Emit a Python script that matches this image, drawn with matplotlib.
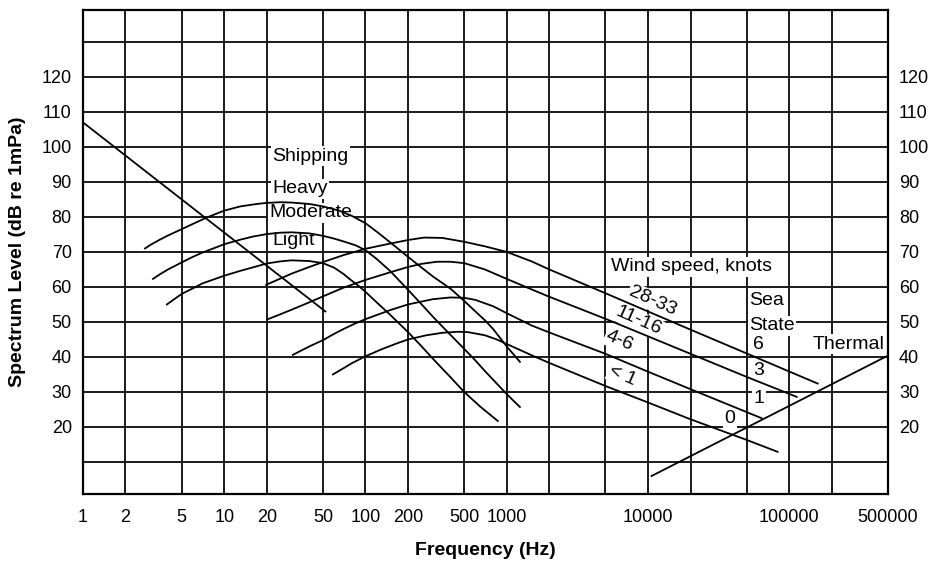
import matplotlib
matplotlib.use("Agg")
import matplotlib.pyplot as plt
from matplotlib.ticker import NullLocator

plt.rcParams['font.family'] = ['Liberation Sans', 'DejaVu Sans']

# ambient noise curves, frequency [Hz] vs spectrum level [dB]
turb_f = [1, 52]
turb_db = [107, 53]

heavy_f = [2.75, 3, 3.5, 4, 5, 6, 7.5, 10, 13, 17, 20, 25, 30, 40, 50, 65, 80, 100,
           120, 150, 200, 250, 300, 400, 500, 600, 700, 800, 1000, 1240]
heavy_db = [71, 72, 73.5, 74.7, 76.5, 78, 79.8, 81.8, 83, 83.7, 84, 84.2, 84.1, 83.7, 83,
            81.8, 80.3, 78.2, 75.8, 72.7, 68.6, 65.5, 63, 59.5, 56, 53, 50.5, 48, 43, 38.6]

moderate_f = [3.13, 3.5, 4, 5, 6, 7, 8.5, 10, 13, 16, 20, 25, 30, 40, 50, 60, 70, 85,
              100, 120, 150, 200, 250, 300, 400, 500, 600, 700, 850, 1000, 1240]
moderate_db = [62.3, 63.6, 65, 67, 68.6, 69.8, 71.1, 72.2, 73.5, 74.4, 75.1, 75.5, 75.6,
               75.3, 74.6, 73.8, 73, 71.9, 70.5, 68, 64.5, 59.2, 55, 51.5, 46.3, 42.3, 39,
               36, 32.4, 29.4, 25.7]

light_f = [3.93, 4.5, 5, 6, 7, 8.5, 10, 13, 16, 20, 25, 30, 40, 50, 60, 70, 77, 90, 100,
           120, 150, 200, 250, 300, 400, 500, 650, 865]
light_db = [55, 56.7, 58, 59.6, 61, 62.2, 63.2, 64.6, 65.6, 66.7, 67.3, 67.6, 67.4, 66.8,
            65.5, 63.7, 62.3, 60.2, 58.6, 55.6, 52, 47.1, 43, 39.5, 34.2, 30, 25.8, 21.7]

wind28_f = [19.8, 25, 30, 40, 50, 70, 100, 150, 200, 260, 350, 500, 700, 1000, 1500,
            2000, 5000, 10000, 20000, 50000, 159000]
wind28_db = [60.6, 62.4, 63.8, 65.7, 67.1, 69.1, 70.9, 72.4, 73.4, 74.1, 74, 72.9, 71.6,
             70, 67.3, 65, 58.2, 53, 47.8, 41, 32.4]

wind11_f = [20.4, 25, 30, 40, 50, 70, 100, 150, 200, 250, 320, 400, 500, 700, 1000, 1500,
            2000, 5000, 10000, 20000, 50000, 113000]
wind11_db = [50.8, 52.2, 53.5, 55.6, 57.3, 59.8, 62, 64.2, 65.7, 66.6, 67.2, 67.2, 66.8,
             65, 62.3, 59.3, 57.2, 50.9, 45.9, 40.9, 34.3, 28.6]

wind4_f = [30.6, 40, 50, 60, 70, 85, 100, 150, 200, 300, 400, 500, 600, 800, 1000, 1500,
           2000, 5000, 10000, 20000, 63800]
wind4_db = [40.6, 43, 44.8, 46.6, 48, 49.6, 50.8, 53.4, 55, 56.5, 57, 56.9, 56.3, 54.5,
            52.5, 49, 47, 40.9, 35.8, 30.8, 22.5]

wind1_f = [58.8, 70, 80, 100, 130, 170, 200, 270, 350, 450, 530, 700, 850, 1000, 1500,
           2000, 5000, 10000, 20000, 50000, 82800]
wind1_db = [35, 36.8, 38.2, 40.2, 42.2, 44, 45, 46.2, 46.9, 47.2, 47.1, 46.2, 45, 43.7,
            40.5, 38.3, 31.7, 27, 22.2, 16.3, 12.9]

thermal_f = [10600, 500000]
thermal_db = [6, 40.4]

grid_f = [1, 2, 5, 10, 20, 50, 100, 200, 500, 1000, 2000, 5000,
          10000, 20000, 50000, 100000, 200000, 500000]
freq_labels = ['1', '2', '5', '10', '20', '50', '100', '200', '500', '1000', '', '',
               '10000', '', '', '100000', '', '500000']
grid_db = list(range(10, 140, 10))
level_labels = [str(v) if 20 <= v <= 120 else '' for v in grid_db]

fig = plt.figure(figsize=(9.31, 5.62), dpi=100)
ax = fig.add_axes([0.0891, 0.121, 0.8647, 0.8612])

curves = [(turb_f, turb_db), (heavy_f, heavy_db), (moderate_f, moderate_db),
          (light_f, light_db), (wind28_f, wind28_db), (wind11_f, wind11_db),
          (wind4_f, wind4_db), (wind1_f, wind1_db), (thermal_f, thermal_db)]
for f, db in curves:
    ax.plot(f, db, color='black', lw=1.3, zorder=5)

ax.set_xscale('log')
ax.set_xlim(1, 500000)
ax.set_ylim(0.86, 139.1)
ax.set_xticks(grid_f, freq_labels)
ax.xaxis.set_minor_locator(NullLocator())
ax.set_yticks(grid_db, level_labels)
ax.grid(True, color='#1a1a1a', lw=1.4, zorder=1)
ax.set_axisbelow(True)
for s in ax.spines.values():
    s.set_linewidth(1.6)
ax.tick_params(axis='both', length=0, labelsize=13)
ax.tick_params(axis='x', pad=11)
ax.tick_params(axis='y', pad=8, labelright=True)

ax.set_xlabel('Frequency (Hz)', fontsize=14, fontweight='bold', labelpad=11)
ax.set_ylabel('Spectrum Level (dB re 1mPa)', fontsize=14, fontweight='bold', labelpad=11)

box = dict(facecolor='white', edgecolor='none', pad=1)
txt = dict(fontsize=14, bbox=box, zorder=4)

# shipping labels
ax.text(22, 97.4, 'Shipping', ha='left', va='center', **txt)
ax.text(22, 88, 'Heavy', ha='left', va='center', **txt)
ax.text(21, 81.2, 'Moderate', ha='left', va='center', **txt)
ax.text(22, 73.4, 'Light', ha='left', va='center', **txt)

# wind labels
ax.text(5500, 65.7, 'Wind speed, knots', ha='left', va='center', **txt)
ax.text(10800, 56, '28-33', ha='center', va='center', rotation=-24, **txt)
ax.text(8500, 50.3, '11-16', ha='center', va='center', rotation=-24, **txt)
ax.text(6300, 44.6, '4-6', ha='center', va='center', rotation=-24, **txt)
ax.text(6600, 34.6, '< 1', ha='center', va='center', rotation=-24, **txt)

# sea state labels
ax.text(52000, 56, 'Sea', ha='left', va='center', **txt)
ax.text(52000, 48.9, 'State', ha='left', va='center', **txt)
ax.text(61000, 43.7, '6', ha='center', va='center', **txt)
ax.text(61000, 36, '3', ha='center', va='center', **txt)
ax.text(61000, 28, '1', ha='center', va='center', **txt)
ax.text(38000, 22.3, '0', ha='center', va='center', **txt)
ax.text(264000, 43.7, 'Thermal', ha='center', va='center', **txt)

fig.savefig('out.png', dpi=100)
